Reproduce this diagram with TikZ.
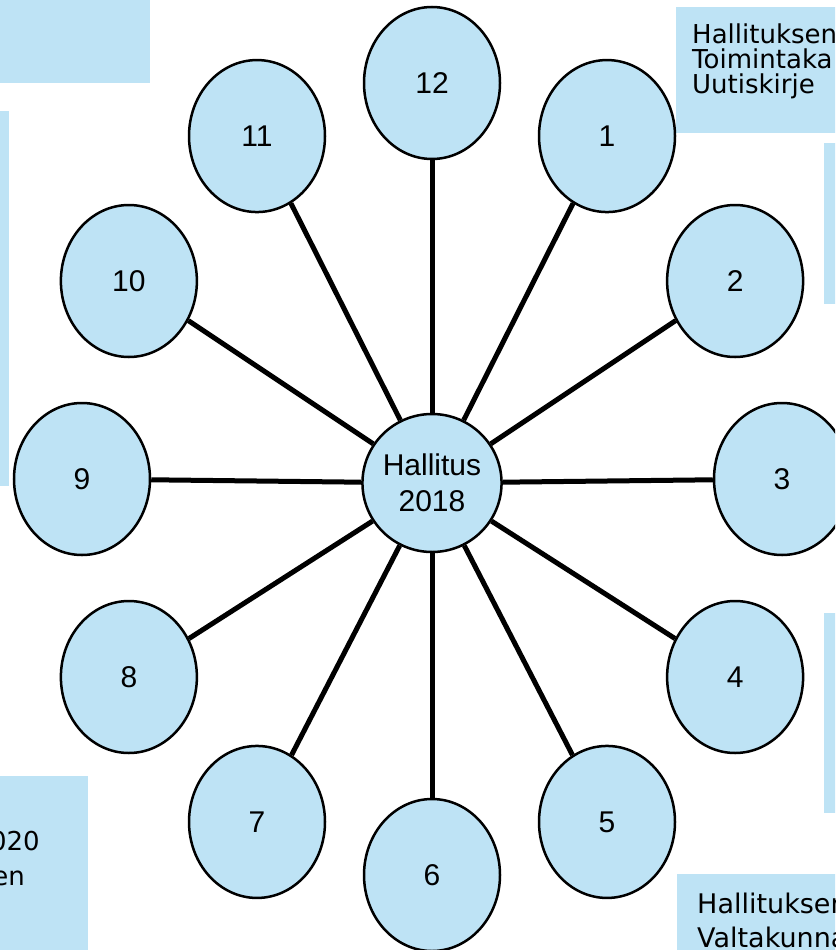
\documentclass[tikz,border=0pt]{standalone}
\usepackage{fontspec}
\setmainfont{Liberation Sans}
\newfontfamily\boxfont{DejaVu Sans}
\usetikzlibrary{shapes.geometric}
\definecolor{lb}{RGB}{190,227,245}
\begin{document}
\begin{tikzpicture}[x=1pt,y=-1pt,
  bubble/.style={ellipse,draw=black,line width=2.5pt,fill=lb,minimum width=136pt,minimum height=152pt,inner sep=0pt,font=\fontsize{30}{36}\selectfont},
  hub/.style={ellipse,draw=black,line width=2.5pt,fill=lb,minimum width=133pt,minimum height=138pt,inner sep=0pt,align=center,font=\fontsize{30}{36}\selectfont},
  spoke/.style={line width=5pt,black},
  panel/.style={fill=lb},
  ptl/.style={anchor=base west,inner sep=0pt,font=\boxfont\fontsize{26}{26}\selectfont},
  pbl/.style={anchor=base west,inner sep=0pt,font=\boxfont\fontsize{27}{27}\selectfont},
  pbr/.style={anchor=base east,inner sep=0pt,font=\boxfont\fontsize{26}{26}\selectfont}]
\useasboundingbox (0,0) rectangle (835,950);
\clip (0,0) rectangle (835,950);
% panels
\fill[panel] (-10,-10) rectangle (150,83);
\fill[panel] (676,7) rectangle (845,133);
\fill[panel] (824,143) rectangle (845,304);
\fill[panel] (824,613) rectangle (845,813);
\fill[panel] (-10,111) rectangle (9,486);
\fill[panel] (-10,776) rectangle (88,960);
\fill[panel] (677,874) rectangle (845,960);
% panel texts
\node[ptl] (t1) at (692,44) {Hallituksen};
\node[ptl] (t2) at (692,69) {Toimintaka};
\node[ptl] (t3) at (692,93) {Uutiskirje};
\node[pbl] (t4) at (697,913) {Hallituksen};
\node[pbl] (t5) at (697,947) {Valtakunna};
\node[pbr] (t6) at (40,850) {020};
\node[pbr] (t7) at (25,885) {en};
% hub
\node[hub] (c) at (432,483) {Hallitus\\2018};
% outer bubbles
\foreach \n/\a in {12/90,1/60,2/30,3/0,4/-30,5/-60,6/-90,7/-120,8/-150,9/180,10/150,11/120}{
  \node[bubble] (b\n) at ({432+350*cos(\a)},{479-396*sin(\a)}) {\n};
}
\foreach \n in {1,...,12}{
  \draw[spoke] (c) -- (b\n);
}
\end{tikzpicture}
\end{document}
